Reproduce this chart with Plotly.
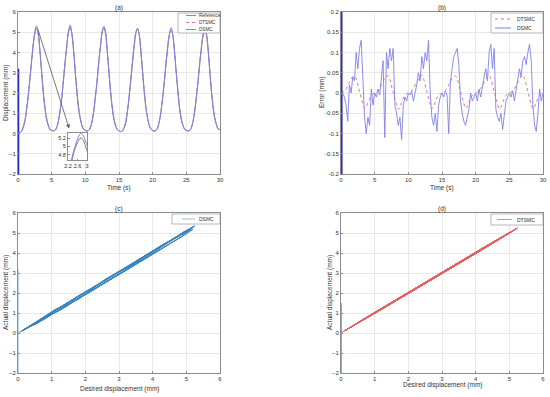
import numpy as np
import plotly.graph_objects as go

# ---------------- data ----------------
t_step = 0.25
time_s = np.round(np.arange(0, 30.0001, t_step), 3)

reference = [
    0.0, 0.02, 0.1, 0.3, 0.6, 1.1, 1.8, 2.6, 3.5, 4.3, 4.95, 5.2, 4.9, 4.1, 3.1, 2.1, 1.3, 0.75, 0.4, 0.22,
    0.15, 0.14, 0.15, 0.3, 0.6, 1.1, 1.8, 2.6, 3.5, 4.3, 4.98, 5.25, 4.95, 4.15, 3.1, 2.1, 1.3, 0.75, 0.4, 0.22,
    0.15, 0.13, 0.15, 0.3, 0.6, 1.1, 1.8, 2.6, 3.5, 4.3, 4.96, 5.21, 4.92, 4.1, 3.1, 2.1, 1.3, 0.75, 0.4, 0.2,
    0.13, 0.1, 0.12, 0.28, 0.58, 1.08, 1.78, 2.58, 3.48, 4.28, 4.93, 5.19, 4.9, 4.1, 3.1, 2.1, 1.3, 0.75, 0.4, 0.22,
    0.15, 0.13, 0.15, 0.3, 0.6, 1.1, 1.8, 2.6, 3.48, 4.25, 4.88, 5.12, 4.85, 4.05, 3.05, 2.1, 1.3, 0.75, 0.4, 0.22,
    0.15, 0.13, 0.15, 0.3, 0.6, 1.1, 1.8, 2.6, 3.46, 4.22, 4.85, 5.1, 4.82, 4.05, 3.05, 2.05, 1.28, 0.75, 0.4, 0.22, 0.2,
]

dtsmc_error = [
    0.0, 0.002, 0.005, 0.01, 0.018, 0.026, 0.034, 0.04, 0.042, 0.035, 0.02, 0.004, -0.012, -0.027, -0.038, -0.034, -0.024, -0.014, -0.007, -0.002,
    0.0, 0.003, 0.006, 0.012, 0.02, 0.028, 0.036, 0.041, 0.043, 0.034, 0.018, 0.002, -0.014, -0.028, -0.04, -0.035, -0.023, -0.013, -0.006, -0.001,
    0.0, 0.002, 0.005, 0.011, 0.019, 0.027, 0.035, 0.042, 0.044, 0.036, 0.02, 0.003, -0.013, -0.027, -0.039, -0.033, -0.022, -0.012, -0.006, -0.002,
    0.0, 0.002, 0.006, 0.012, 0.02, 0.028, 0.036, 0.041, 0.042, 0.035, 0.019, 0.003, -0.012, -0.026, -0.038, -0.034, -0.023, -0.013, -0.006, -0.001,
    0.0, 0.003, 0.006, 0.011, 0.019, 0.027, 0.035, 0.041, 0.043, 0.036, 0.02, 0.004, -0.012, -0.027, -0.039, -0.035, -0.024, -0.013, -0.006, -0.002,
    0.0, 0.002, 0.005, 0.011, 0.019, 0.027, 0.035, 0.041, 0.044, 0.036, 0.021, 0.004, -0.012, -0.027, -0.039, -0.034, -0.023, -0.013, -0.007, -0.002, 0.0,
]

dsmc_error = [
    0.0, 0.0, -0.01, -0.03, -0.07, 0.02, 0.0, 0.04, 0.03, 0.1, 0.06, 0.11, 0.13, 0.04, -0.06, -0.1, -0.06, -0.08, 0.01, -0.03,
    0.0, -0.01, 0.01, -0.005, 0.03, 0.08, -0.11, 0.1, 0.06, 0.11, 0.08, 0.11, -0.03, -0.05, -0.08, -0.06, -0.115, -0.03, -0.01, -0.02,
    0.0, -0.005, 0.005, -0.02, 0.0, 0.02, 0.05, 0.03, 0.09, 0.06, 0.1, 0.08, 0.13, 0.0, -0.06, -0.08, -0.05, -0.095, -0.03, -0.01,
    0.0, -0.01, 0.005, -0.005, -0.1, 0.03, 0.06, 0.09, 0.1, 0.11, 0.07, -0.02, -0.05, -0.07, -0.08, -0.06, -0.04, 0.0, -0.02, -0.01,
    0.0, -0.02, 0.01, -0.01, 0.02, 0.04, 0.06, 0.03, 0.1, 0.12, 0.06, 0.11, -0.04, -0.06, -0.07, -0.05, -0.09, -0.06, -0.02, -0.01,
    0.0, -0.01, 0.005, -0.02, 0.01, 0.03, 0.06, 0.04, 0.08, 0.09, 0.07, 0.1, 0.12, 0.08, -0.03, -0.08, -0.095, -0.05, 0.01, -0.02, 0.0,
]

# initial transient (first few milliseconds)
transient_t = [0.0, 0.002, 0.004, 0.006, 0.008, 0.010]
dsmc_transient = [0.0, 3.2, -2.6, 2.4, -2.3, 0.0]
dtsmc_transient = [0.0, 1.5, -2.4, 0.8, -0.5, 0.0]

top_x_ticks = [0, 5, 10, 15, 20, 25, 30]
disp_y_ticks = [-2, -1, 0, 1, 2, 3, 4, 5, 6]
err_y_ticks = [-0.2, -0.15, -0.1, -0.05, 0, 0.05, 0.1, 0.15, 0.2]
err_y_labels = ["-0.2", "-0.15", "-0.1", "-0.05", "0", "0.05", "0.1", "0.15", "0.2"]
bottom_x_ticks = [0, 1, 2, 3, 4, 5, 6]
inset_x_ticks = [2.2, 2.6, 3]
inset_y_ticks = [4.8, 5, 5.2]

# ---------------- derived series ----------------
ref = np.array(reference)
dtsmc_out = ref + np.array(dtsmc_error)
dsmc_out = ref + np.array(dsmc_error)

REF_C = "#8a8a8a"
DT_C = "#e8757a"
DS_C = "#8080ea"
TR_C = "#2a2ac4"
C_C = "#3582bd"
C_T = "#a6cfea"
D_C = "#e26262"

FONT = "Liberation Sans, Arial, sans-serif"
TXT = "#333"

fig = go.Figure()

# (a)
fig.add_trace(go.Scatter(x=time_s, y=ref, mode="lines", line=dict(color=REF_C, width=1, shape="spline"),
                         xaxis="x", yaxis="y"))
fig.add_trace(go.Scatter(x=time_s, y=dtsmc_out, mode="lines",
                         line=dict(color=DT_C, width=1, dash="dot", shape="spline"), xaxis="x", yaxis="y"))
fig.add_trace(go.Scatter(x=time_s, y=dsmc_out, mode="lines", line=dict(color=DS_C, width=1, shape="spline"),
                         xaxis="x", yaxis="y"))
fig.add_trace(go.Scatter(x=transient_t, y=dsmc_transient, mode="lines", line=dict(color=TR_C, width=2.5),
                         xaxis="x", yaxis="y"))

# inset
fig.add_trace(go.Scatter(x=time_s, y=ref, mode="lines", line=dict(color=REF_C, width=1, shape="spline"),
                         xaxis="x5", yaxis="y5"))
fig.add_trace(go.Scatter(x=time_s, y=dtsmc_out, mode="lines",
                         line=dict(color=DT_C, width=1, dash="dot", shape="spline"), xaxis="x5", yaxis="y5"))
fig.add_trace(go.Scatter(x=time_s, y=dsmc_out, mode="lines", line=dict(color=DS_C, width=1, shape="spline"),
                         xaxis="x5", yaxis="y5"))

# (b)
fig.add_trace(go.Scatter(x=time_s, y=dtsmc_error, mode="lines",
                         line=dict(color=DT_C, width=1, dash="dot", shape="spline"), xaxis="x2", yaxis="y2"))
fig.add_trace(go.Scatter(x=time_s, y=dsmc_error, mode="lines", line=dict(color=DS_C, width=0.9),
                         xaxis="x2", yaxis="y2"))
fig.add_trace(go.Scatter(x=transient_t, y=dsmc_transient, mode="lines", line=dict(color=TR_C, width=3),
                         xaxis="x2", yaxis="y2"))

# (c)
fig.add_trace(go.Scatter(x=ref, y=dsmc_out, mode="lines", line=dict(color=C_C, width=0.9),
                         xaxis="x3", yaxis="y3"))
fig.add_trace(go.Scatter(x=[0.0] * len(transient_t), y=dsmc_transient, mode="lines",
                         line=dict(color=C_T, width=1.5), xaxis="x3", yaxis="y3"))

# (d)
fig.add_trace(go.Scatter(x=ref, y=dtsmc_out, mode="lines", line=dict(color=D_C, width=1),
                         xaxis="x4", yaxis="y4"))
fig.add_trace(go.Scatter(x=[0.0] * len(transient_t), y=dtsmc_transient, mode="lines",
                         line=dict(color=D_C, width=1), xaxis="x4", yaxis="y4"))

W, H = 550, 397
def px(v):
    return v / W
def py(v):
    return 1 - v / H

ax_common = dict(showline=True, mirror=True, linecolor="#8c8c8c", linewidth=1, ticks="inside",
                 ticklen=2, tickcolor="#8c8c8c", showgrid=True, gridcolor="#e8e8e8", gridwidth=1,
                 zeroline=False, automargin=False, tickfont=dict(size=6, color=TXT, family=FONT))

dom_ax = [px(18), px(220)]
dom_bx = [px(341), px(543)]
dom_top = [py(174), py(12)]
dom_bot = [py(373), py(213)]

inset_ax = dict(showline=True, mirror=True, linecolor="#8c8c8c", ticks="inside", ticklen=1.5,
                tickcolor="#8c8c8c", showgrid=False, zeroline=False, automargin=False, tickangle=0,
                tickfont=dict(size=5.5, color=TXT, family=FONT))

fig.update_layout(
    width=W, height=H, margin=dict(l=0, r=0, t=0, b=0, autoexpand=False),
    paper_bgcolor="white", plot_bgcolor="white", font=dict(family=FONT, size=6, color=TXT),
    showlegend=False, hovermode=False,
    xaxis=dict(domain=dom_ax, range=[0, 30], tickvals=top_x_ticks, anchor="y", **ax_common),
    yaxis=dict(domain=dom_top, range=[-2, 6], tickvals=disp_y_ticks, anchor="x", **ax_common),
    xaxis2=dict(domain=dom_bx, range=[0, 30], tickvals=top_x_ticks, anchor="y2", **ax_common),
    yaxis2=dict(domain=dom_top, range=[-0.2, 0.2], tickvals=err_y_ticks, ticktext=err_y_labels, anchor="x2", **ax_common),
    xaxis3=dict(domain=dom_ax, range=[0, 6], tickvals=bottom_x_ticks, anchor="y3", **ax_common),
    yaxis3=dict(domain=dom_bot, range=[-2, 6], tickvals=disp_y_ticks, anchor="x3", **ax_common),
    xaxis4=dict(domain=dom_bx, range=[0, 6], tickvals=bottom_x_ticks, anchor="y4", **ax_common),
    yaxis4=dict(domain=dom_bot, range=[-2, 6], tickvals=disp_y_ticks, anchor="x4", **ax_common),
    xaxis5=dict(domain=[px(68), px(87)], range=[2.2, 3], tickvals=inset_x_ticks, ticktext=["2.2", "2.6", "3"],
                anchor="y5", **inset_ax),
    yaxis5=dict(domain=[py(160), py(133)], range=[4.68, 5.32], tickvals=inset_y_ticks, ticktext=["4.8", "5", "5.2"],
                anchor="x5", **inset_ax),
)

def text(s, x, y, size=6.5, angle=0, xanchor="center"):
    fig.add_annotation(text=s, x=px(x), y=py(y), xref="paper", yref="paper", showarrow=False,
                       textangle=angle, xanchor=xanchor, yanchor="middle",
                       font=dict(size=size, color=TXT, family=FONT))

# panel titles
for label, xc, yc in [("(a)", 119, 8), ("(b)", 442, 8), ("(c)", 119, 209), ("(d)", 442, 209)]:
    text(label, xc, yc)

# axis titles
text("Time (s)", 119, 188)
text("Time (s)", 442, 188)
text("Displacement (mm)", 6, 93, angle=-90)
text("Error (mm)", 322, 93, angle=-90)
text("Desired displacement (mm)", 119, 389)
text("Desired displacement (mm)", 442, 385)
text("Actual displacement (mm)", 6, 293, angle=-90)
text("Actual displacement (mm)", 330, 293, angle=-90)

# custom legends (MATLAB-like compact boxes)
def legend_box(x0, y0, x1, y1, items, lx0, lx1, tx, size=5):
    fig.add_shape(type="rect", xref="paper", yref="paper", x0=px(x0), x1=px(x1), y0=py(y1), y1=py(y0),
                  line=dict(color="#9a9a9a", width=0.7), fillcolor="white", layer="above")
    for name, color, dash, yy in items:
        fig.add_shape(type="line", xref="paper", yref="paper", x0=px(lx0), x1=px(lx1), y0=py(yy), y1=py(yy),
                      line=dict(color=color, width=1, dash=dash), layer="above")
        text(name, tx, yy, size=size, xanchor="left")

legend_box(178, 13, 220, 33, [("Reference", REF_C, "solid", 15.5), ("DTSMC", DT_C, "dot", 22.5),
                             ("DSMC", DS_C, "solid", 29.5)], 186, 196, 196.5, size=4.6)
legend_box(491, 13, 543, 33, [("DTSMC", DT_C, "dot", 19), ("DSMC", DS_C, "solid", 28)], 495, 511, 515)
legend_box(172, 214, 220, 224, [("DSMC", "#8fc0e4", "solid", 219)], 182, 195, 197)
legend_box(491, 214, 543, 225, [("DTSMC", "#ea8a8a", "solid", 219.5)], 497, 512, 515)

# zoom arrow from first peak to inset
fig.add_annotation(x=7.6, y=0.25, ax=2.9, ay=5.2, xref="x", yref="y", axref="x", ayref="y",
                   showarrow=True, arrowhead=2, arrowsize=1, arrowwidth=0.8, arrowcolor="#555", text="")

fig.write_html("out.html", config={"displayModeBar": False},
               post_script="document.body.style.margin='0px';document.body.style.overflow='hidden';")
